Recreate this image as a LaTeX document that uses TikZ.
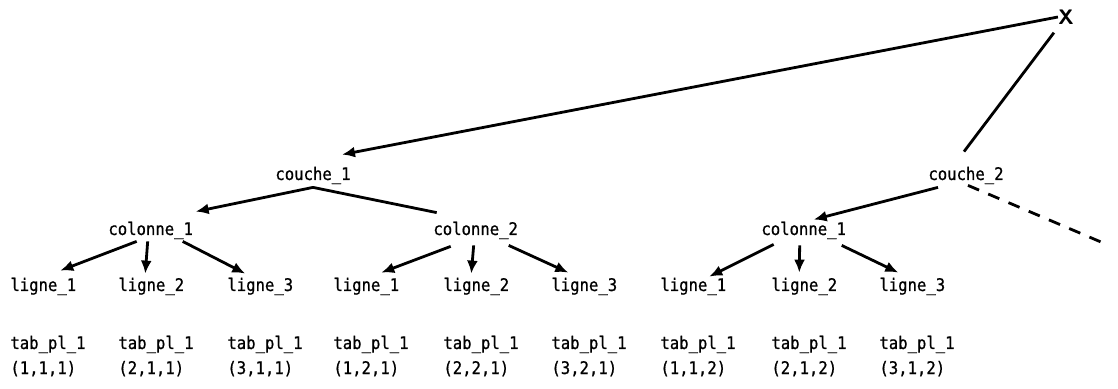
\documentclass[tikz,border=0pt]{standalone}
\usepackage{fontspec}
\newfontfamily\monofont[FakeStretch=0.9,FakeBold=0.8]{DejaVu Sans Mono}
\usetikzlibrary{arrows.meta,calc}
\begin{document}
\begin{tikzpicture}[x=0.5pt,y=-0.5pt,
  lbl/.style={font=\monofont\fontsize{8.67}{10}\selectfont, inner sep=0pt, anchor=base west, text height=6pt, text depth=2pt},
  conn/.style={line width=1.4pt},
  arr/.style={conn, -{Latex[length=6.5pt,width=5.5pt]}},
  dashconn/.style={conn, dash pattern=on 6pt off 5pt}
]
\useasboundingbox (0,0) rectangle (1118,389);
% root
\node[font=\sffamily\bfseries\fontsize{10.5}{11}\selectfont, inner sep=0pt] (X) at (1066,17) {X};
% layers
\node[lbl] (c1) at (275,180) {couche\_1};
\node[lbl] (c2) at (928,180) {couche\_2};
% columns
\node[lbl] (cA) at (108,235) {colonne\_1};
\node[lbl] (cB) at (433,235) {colonne\_2};
\node[lbl] (cC) at (761,235) {colonne\_1};
% rows and elements
\foreach \i/\x/\n/\a/\b/\c in {1/10/1/1/1/1,2/118/2/2/1/1,3/227/3/3/1/1,4/333/1/1/2/1,5/443/2/2/2/1,6/551/3/3/2/1,7/660/1/1/1/2,8/771/2/2/1/2,9/879/3/3/1/2}{
  \node[lbl] (l\i) at (\x,291) {ligne\_\n};
  \node[lbl] (t\i) at (\x,349) {tab\_pl\_1};
  \node[lbl] (p\i) at (\x,374) {(\a,\b,\c)};
}
% connectors from root
\draw[arr] (X.west) -- ($(c1.north)+(29,-13)$);
\draw[conn] ($(X.south west)+(-4,8)$) -- ($(c2.north)+(-2,-16)$);
% layer to columns
\draw[arr] ($(c1.south)+(0,3)$) -- ($(cA.north)+(45,-11)$);
\draw[conn] ($(c1.south)+(0,3)$) -- ($(cB.north)+(-39,-10)$);
\draw[arr] ($(c2.south)+(-28,3)$) -- ($(cC.north)+(10,-3)$);
\coordinate (d) at (1108,245);
\draw[dashconn] ($(c2.south)+(2,1)$) -- (d);
% columns to rows
\draw[arr] ($(cA.south)+(-14,2)$) -- ($(l1.north)+(17,-8)$);
\draw[arr] ($(cA.south)+(-3,2)$) -- ($(l2.north)+(-6,-5)$);
\draw[arr] ($(cA.south)+(32,2)$) -- ($(l3.north)+(-15,-5)$);
\draw[arr] ($(cB.south)+(-25,7)$) -- ($(l4.north)+(15,-6)$);
\draw[arr] ($(cB.south)+(-2,6)$) -- ($(l5.north)+(-5,-5)$);
\draw[arr] ($(cB.south)+(33,6)$) -- ($(l6.north)+(-16,-6)$);
\draw[arr] ($(cC.south)+(-30,5)$) -- ($(l7.north)+(16,-2)$);
\draw[arr] ($(cC.south)+(-4,6)$) -- ($(l8.north)+(-5,-6)$);
\draw[arr] ($(cC.south)+(38,6)$) -- ($(l9.north)+(-14,-6)$);
\end{tikzpicture}
\end{document}
